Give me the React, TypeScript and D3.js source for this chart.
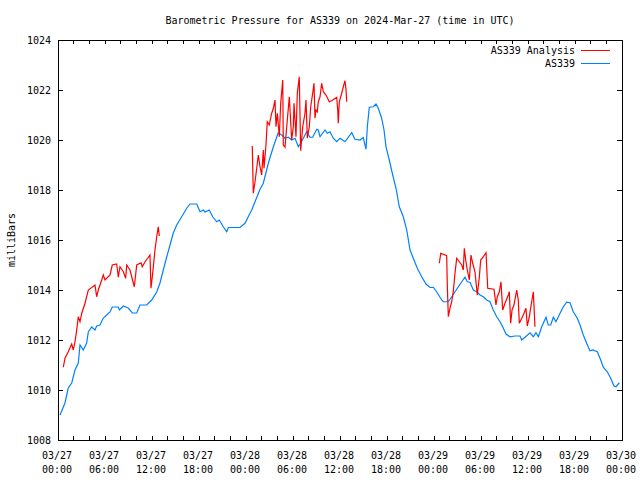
import React from "react";
import * as d3 from "d3";

const title = "Barometric Pressure for AS339 on 2024-Mar-27 (time in UTC)";
const yAxisLabel = "milliBars";
const seriesNames = ["AS339 Analysis", "AS339"];
const seriesColors = ["#ff0000", "#0080ff"];
const startTime = "2024-03-27T00:00:00Z";
const endTime = "2024-03-30T00:00:00Z";
const yTickValues = [1008, 1010, 1012, 1014, 1016, 1018, 1020, 1022, 1024];

// AS339 observations: hours since start, pressure (mb)
const stationHours = [
  0.26, 0.89, 1.31, 1.75, 2.17, 2.59, 2.81, 3.23, 3.66, 3.87, 4.3, 4.72, 4.94, 5.36, 5.78, 6.22, 6.64, 6.93,
  7.7, 7.83, 8.34, 8.97, 9.49, 10.05, 10.47, 11.32, 11.96, 12.6, 13.02, 13.44, 13.88, 14.3, 14.72, 15.15,
  15.79, 16.43, 16.85, 17.71, 18.13, 18.55, 18.77, 19.31, 19.75, 20.26, 20.59, 21.1, 21.54, 21.74, 23.23,
  23.87, 24.29, 24.73, 25.15, 25.79, 26.21, 26.85, 27.49, 28.12, 28.56, 28.98, 29.4, 29.83, 30.26, 30.68,
  30.98, 31.53, 31.75, 32.17, 32.51, 33.03, 33.23, 33.45, 34.09, 34.38, 34.72, 35.14, 35.58, 36.0, 36.64,
  37.49, 37.91, 38.55, 38.97, 39.32, 39.49, 39.74, 40.25, 40.6, 40.89, 41.32, 41.62, 41.87, 42.29, 42.73,
  43.15, 43.57, 44.08, 44.52, 44.94, 45.36, 45.87, 46.43, 46.98, 47.49, 47.91, 48.34, 48.98, 49.19, 49.83,
  50.26, 50.68, 51.1, 51.54, 51.96, 52.25, 52.6, 53.02, 53.45, 53.87, 54.3, 54.73, 55.15, 55.57, 56.0,
  56.43, 56.77, 57.19, 57.7, 58.34, 58.98, 59.2, 59.62, 60.26, 60.68, 61.02, 61.32, 61.75, 62.3, 62.59,
  62.9, 63.23, 63.57, 64.09, 64.51, 64.94, 65.36, 65.78, 66.29, 66.64, 67.06, 67.49, 67.91, 68.26, 68.85,
  69.28, 69.61, 70.12, 70.56, 70.98, 71.23, 71.66,
];
const stationPressure = [
  1009.0, 1009.48, 1010.08, 1010.28, 1010.8, 1011.08, 1011.8, 1011.6, 1011.88, 1012.32, 1012.52, 1012.4,
  1012.56, 1012.6, 1012.88, 1013.0, 1013.12, 1013.32, 1013.32, 1013.2, 1013.36, 1013.28, 1013.08, 1013.08,
  1013.4, 1013.4, 1013.6, 1013.92, 1014.28, 1014.8, 1015.32, 1015.8, 1016.28, 1016.6, 1016.93, 1017.27,
  1017.44, 1017.44, 1017.13, 1017.2, 1017.12, 1017.2, 1016.93, 1016.73, 1016.8, 1016.53, 1016.33, 1016.5,
  1016.5, 1016.67, 1016.93, 1017.2, 1017.53, 1018.03, 1018.27, 1019.07, 1019.73, 1020.29, 1020.2, 1020.07,
  1020.11, 1020.0, 1020.07, 1019.73, 1019.87, 1020.2, 1020.33, 1020.11, 1020.11, 1020.43, 1020.4, 1020.13,
  1020.4, 1020.27, 1020.33, 1020.07, 1019.93, 1020.07, 1019.93, 1020.29, 1020.03, 1020.0, 1020.1, 1019.63,
  1020.53, 1021.31, 1021.33, 1021.44, 1021.27, 1020.87, 1020.4, 1019.73, 1019.2, 1018.6, 1018.07, 1017.33,
  1016.93, 1016.4, 1015.6, 1015.27, 1014.87, 1014.53, 1014.24, 1014.1, 1014.11, 1013.93, 1013.6, 1013.53,
  1013.53, 1013.73, 1013.93, 1014.13, 1014.33, 1014.51, 1014.33, 1014.31, 1014.0, 1013.93, 1013.8, 1013.73,
  1013.6, 1013.53, 1013.2, 1012.93, 1012.73, 1012.53, 1012.24, 1012.13, 1012.16, 1012.16, 1012.0, 1012.11,
  1012.29, 1012.13, 1012.29, 1012.13, 1012.53, 1012.91, 1012.6, 1012.6, 1012.91, 1012.73, 1013.07, 1013.33,
  1013.51, 1013.49, 1013.13, 1012.87, 1012.6, 1012.2, 1011.87, 1011.57, 1011.6, 1011.53, 1011.2, 1010.91,
  1010.73, 1010.47, 1010.16, 1010.13, 1010.29,
];

// AS339 Analysis: hours since start, pressure (mb); null = gap
const analysisHours = [
  0.68, 0.89, 1.31, 1.75, 1.95, 2.17, 2.39, 2.59, 2.81, 3.03, 3.45, 3.87, 4.72, 4.94, 5.14, 5.58, 5.78, 6.0,
  6.64, 6.93, 7.49, 7.7, 7.91, 8.34, 8.64, 8.77, 9.19, 9.74, 10.05, 10.6, 10.76, 11.11, 11.45, 11.74, 11.87,
  12.04, 12.17, 12.38, 12.6, 12.8, 12.93,
  18.0,
  24.8, 24.86, 24.93, 25.15, 25.37, 25.57, 25.79, 26.0, 26.21, 26.3, 26.55, 26.72, 26.97, 27.28, 27.49, 27.7,
  27.83, 28.0, 28.25, 28.43, 28.69, 28.76, 28.98, 29.2, 29.53, 29.83, 30.04, 30.13, 30.38, 30.55, 30.8,
  30.98, 31.24, 31.53, 31.66, 31.83, 32.08, 32.26, 32.51, 32.68, 32.81, 32.94, 33.1, 33.23, 33.45, 33.66,
  33.87, 34.21, 34.63, 34.94, 35.58, 35.71, 35.78, 35.91, 36.22, 36.42, 36.64, 36.77, 36.86,
  42.0,
  48.68, 48.86, 49.11, 49.62, 49.7, 49.83, 50.04, 50.26, 50.46, 50.68, 50.9, 51.23, 51.54, 51.74, 51.87,
  52.05, 52.25, 52.51, 52.72, 52.94, 53.23, 53.53, 53.79, 53.96, 54.3, 54.64, 54.86, 55.66, 55.91, 56.08,
  56.34, 56.55, 56.77, 57.06, 57.49, 57.61, 57.79, 57.96, 58.21, 58.56, 58.76, 58.89, 59.2, 59.49, 59.74,
  59.91, 60.17, 60.47, 60.68, 60.89,
];
const analysisPressure = [
  1010.91, 1011.27, 1011.53, 1011.84, 1011.6, 1011.93, 1012.4, 1012.93, 1012.73, 1013.07, 1013.47, 1014.0,
  1014.2, 1013.73, 1014.0, 1014.4, 1014.6, 1014.4, 1014.6, 1015.0, 1015.04, 1014.51, 1014.93, 1014.73,
  1014.47, 1015.0, 1014.8, 1014.13, 1015.0, 1015.09, 1014.93, 1015.13, 1015.27, 1015.4, 1014.07, 1014.53,
  1014.93, 1015.6, 1016.13, 1016.53, 1016.16,
  null,
  1019.76, 1018.87, 1017.87, 1018.33, 1018.87, 1019.4, 1018.93, 1018.6, 1019.6, 1018.87, 1019.8, 1020.73,
  1020.6, 1021.07, 1021.27, 1021.6, 1020.53, 1021.07, 1020.13, 1021.47, 1022.4, 1019.8, 1019.71, 1020.53,
  1021.73, 1020.0, 1020.53, 1021.47, 1020.13, 1021.87, 1022.53, 1019.57, 1020.53, 1021.07, 1021.6, 1020.07,
  1020.53, 1021.33, 1021.87, 1022.27, 1020.87, 1021.2, 1021.13, 1021.53, 1021.73, 1022.27, 1021.93, 1021.8,
  1021.53, 1021.57, 1021.71, 1021.2, 1020.67, 1021.53, 1021.87, 1022.13, 1022.37, 1022.0, 1021.53,
  null,
  1015.07, 1015.47, 1015.44, 1015.37, 1014.16, 1012.93, 1013.27, 1013.53, 1013.93, 1014.67, 1015.27,
  1015.13, 1015.0, 1014.8, 1015.67, 1015.2, 1014.8, 1014.4, 1015.4, 1015.07, 1014.73, 1013.8, 1014.53,
  1015.2, 1015.33, 1015.49, 1014.07, 1014.03, 1013.4, 1013.73, 1013.93, 1014.33, 1013.2, 1013.47, 1013.8,
  1013.93, 1012.67, 1013.2, 1013.4, 1014.0, 1013.6, 1012.67, 1012.87, 1013.07, 1013.27, 1012.56, 1012.93,
  1013.53, 1013.93, 1012.53,
];

const W = 640;
const H = 480;
const M = { left: 58, right: 18, top: 40, bottom: 40 };
const FONT = "'DejaVu Sans Mono', 'Liberation Mono', monospace";

export default function App() {
  const t0 = new Date(startTime);
  const t1 = new Date(endTime);
  const toDate = (h: number) => new Date(t0.getTime() + h * 3600 * 1000);

  const x = d3.scaleUtc().domain([t0, t1]).range([M.left, W - M.right]);
  const y = d3.scaleLinear().domain([1008, 1024]).range([H - M.bottom, M.top]);

  const x0 = M.left, x1 = W - M.right, y0 = M.top, y1 = H - M.bottom;

  const line = d3
    .line<[number, number | null]>()
    .defined((d) => d[1] != null)
    .x((d) => x(toDate(d[0])))
    .y((d) => y(d[1] as number));

  const stationData = stationHours.map((h, i) => [h, stationPressure[i]] as [number, number | null]);
  const analysisData = analysisHours.map((h, i) => [h, analysisPressure[i]] as [number, number | null]);

  const minorTicks = d3.utcHour.every(2)!.range(t0, d3.utcHour.offset(t1, 1));
  const majorTicks = d3.utcHour.every(6)!.range(t0, d3.utcHour.offset(t1, 1));
  const fmtDate = d3.utcFormat("%m/%d");
  const fmtTime = d3.utcFormat("%H:%M");

  return (
    <svg width={W} height={H} style={{ display: "block", position: "absolute", left: 0, top: 0, background: "#fff" }}>
      <rect x={0} y={0} width={W} height={H} fill="#fff" />
      <g fontFamily={FONT} fontSize={10} fill="#000">
        <text x={340} y={24} textAnchor="middle">{title}</text>
        <text transform={`translate(15,240) rotate(-90)`} textAnchor="middle">{yAxisLabel}</text>
        {yTickValues.map((v) => (
          <text key={v} x={51} y={y(v) + 4} textAnchor="end">{v}</text>
        ))}
        {majorTicks.map((d, i) => (
          <g key={i}>
            <text x={x(d) - 1} y={459} textAnchor="middle">{fmtDate(d)}</text>
            <text x={x(d) - 1} y={473} textAnchor="middle">{fmtTime(d)}</text>
          </g>
        ))}
      </g>
      <g stroke="#000" strokeWidth={1} shapeRendering="crispEdges">
        {yTickValues.map((v) => (
          <g key={v}>
            <line x1={x0} x2={x0 + 5} y1={y(v)} y2={y(v)} />
            <line x1={x1 - 5} x2={x1} y1={y(v)} y2={y(v)} />
          </g>
        ))}
        {minorTicks.map((d, i) => (
          <g key={i}>
            <line x1={x(d)} x2={x(d)} y1={y1} y2={y1 - 4} />
            <line x1={x(d)} x2={x(d)} y1={y0} y2={y0 + 4} />
          </g>
        ))}
      </g>
      <path d={line(stationData) || ""} fill="none" stroke={seriesColors[1]} strokeWidth={1.2} />
      <path d={line(analysisData) || ""} fill="none" stroke={seriesColors[0]} strokeWidth={1.2} />
      <rect x={x0 + 0.5} y={y0 + 0.5} width={x1 - x0} height={y1 - y0} fill="none" stroke="#000" strokeWidth={1} shapeRendering="crispEdges" />
      <g fontFamily={FONT} fontSize={10} fill="#000">
        {seriesNames.map((name, i) => (
          <g key={name}>
            <text x={575} y={54 + i * 13} textAnchor="end">{name}</text>
            <line x1={581} x2={610} y1={50.5 + i * 13} y2={50.5 + i * 13} stroke={seriesColors[i]} strokeWidth={1} shapeRendering="crispEdges" />
          </g>
        ))}
      </g>
    </svg>
  );
}
